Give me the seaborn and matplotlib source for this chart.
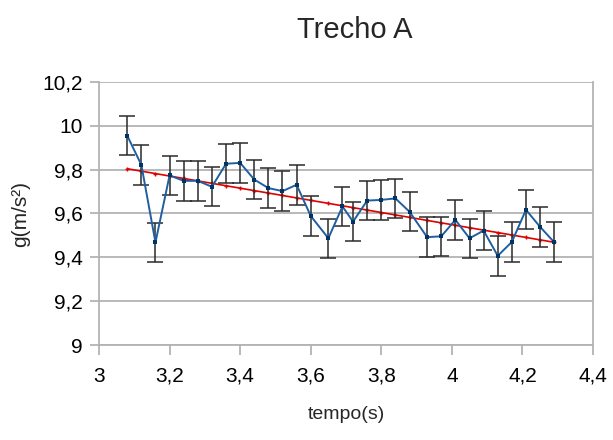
import numpy as np
import pandas as pd
import matplotlib
matplotlib.use("Agg")
import matplotlib.pyplot as plt
import seaborn as sns
from matplotlib import font_manager

tempo = [3.08, 3.12, 3.16, 3.20, 3.24, 3.28, 3.32, 3.36, 3.40, 3.44, 3.48,
         3.52, 3.56, 3.60, 3.65, 3.69, 3.72, 3.76, 3.80, 3.84, 3.88, 3.93,
         3.97, 4.01, 4.05, 4.09, 4.13, 4.17, 4.21, 4.25, 4.29]
g = [9.955, 9.822, 9.468, 9.774, 9.749, 9.749, 9.722, 9.827, 9.831, 9.755,
     9.716, 9.702, 9.731, 9.589, 9.487, 9.632, 9.563, 9.659, 9.662, 9.669,
     9.608, 9.492, 9.496, 9.571, 9.487, 9.522, 9.407, 9.470, 9.617, 9.539,
     9.469]
erro = [0.09] * len(g)
xticks = [3, 3.2, 3.4, 3.6, 3.8, 4, 4.2, 4.4]
yticks = [9, 9.2, 9.4, 9.6, 9.8, 10, 10.2]

df = pd.DataFrame({"tempo": tempo, "g": g, "erro": erro})
coef = np.polyfit(df["tempo"], df["g"], 1)
df["fit"] = np.polyval(coef, df["tempo"])

sns.set_theme(style="white")
names = {f.name for f in font_manager.fontManager.ttflist}
fam = "Liberation Sans Narrow" if "Liberation Sans Narrow" in names else "Liberation Sans"
plt.rcParams["font.family"] = [fam, "DejaVu Sans"]

fig = plt.figure(figsize=(6.13, 4.40), dpi=100)
ax = fig.add_axes([99/613, 1-345/440, 494/613, 263/440])

grid_c = "#b3b3b3"
for y in yticks:
    ax.axhline(y, color=grid_c, lw=1.3, zorder=0)

sns.lineplot(data=df, x="tempo", y="fit", ax=ax, color="#e00000", lw=1.2,
             marker="+", markersize=3.5, markeredgewidth=1,
             markeredgecolor="#e00000", zorder=2)
ax.errorbar(df["tempo"], df["g"], yerr=df["erro"], fmt="none",
            ecolor="#2a2a2a", elinewidth=1.1, capsize=5.5, capthick=1.1, zorder=3)
sns.lineplot(data=df, x="tempo", y="g", ax=ax, color="#1f5fa0", lw=1.4,
             marker="s", markersize=2.6, markeredgewidth=0,
             markerfacecolor="#003366", zorder=4)

ax.set_xlim(3, 4.4)
ax.set_ylim(9, 10.2)
ax.set_xticks(xticks)
ax.set_yticks(yticks)
fmt = lambda v: (f"{v:g}").replace(".", ",")
ax.set_xticklabels([fmt(v) for v in xticks])
ax.set_yticklabels([fmt(v) for v in yticks])
ax.tick_params(axis="both", which="both", direction="out",
               width=1.3, color=grid_c, labelsize=15, labelcolor="black",
               bottom=True, left=True)
ax.tick_params(axis="x", length=7.5, pad=8)
ax.tick_params(axis="y", length=6.5, pad=5)
for s in ["left", "right", "bottom"]:
    ax.spines[s].set_visible(True)
    ax.spines[s].set_color(grid_c)
    ax.spines[s].set_linewidth(1.3)
ax.spines["top"].set_visible(False)

ax.set_xlabel("tempo(s)", fontsize=14, labelpad=15)
ax.set_ylabel("g(m/s²)", fontsize=15, labelpad=9)
fig.text(355/613, 1-30/440, "Trecho A", fontsize=21, ha="center", va="center")

fig.savefig("out.png", dpi=100)
